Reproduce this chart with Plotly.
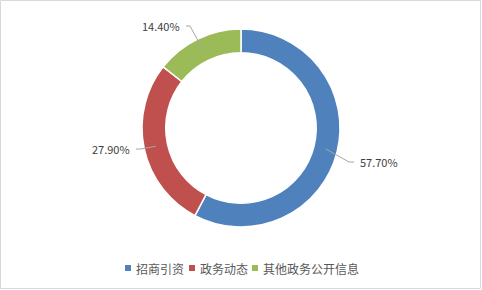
import math
import plotly.graph_objects as go

# Data
categories = ["招商引资", "政务动态", "其他政务公开信息"]
shares = [57.70, 27.90, 14.40]
colors = ["#4F81BD", "#C0504D", "#9BBB59"]

W, H = 482, 290
CX, CY, R = 241, 128, 99          # donut centre / outer radius (px, from top-left)
HOLE = 0.76
FONT = "Noto Sans CJK SC, Noto Sans, sans-serif"


def px(x, y):
    """Pixel position (from top-left) -> paper coordinates."""
    return x / W, 1 - y / H


fig = go.Figure()

x0, y0 = px(CX - R, CY + R)
x1, y1 = px(CX + R, CY - R)
fig.add_trace(go.Pie(
    labels=categories,
    values=shares,
    sort=False,
    direction="clockwise",
    rotation=0,
    hole=HOLE,
    marker=dict(colors=colors, line=dict(color="white", width=1.5)),
    textinfo="none",
    hoverinfo="label+percent",
    showlegend=False,
    domain=dict(x=[x0, x1], y=[y0, y1]),
))

# Data labels with leader lines, anchored at each slice's mid angle
# (elbow point, tail end, text side) per slice
leader = [
    dict(elbow=(349, 162), tail=(354, 162), side="left"),
    dict(elbow=(141, 149), tail=(136, 149), side="right"),
    dict(elbow=(190, 26), tail=(186, 26), side="right"),
]

shapes = []
annotations = []
total = sum(shares)
start = 0.0
mid_r = R * (1 + HOLE) / 2
for v, ld in zip(shares, leader):
    frac = v / total
    mid = (start + frac / 2) * 2 * math.pi     # clockwise from 12 o'clock
    start += frac
    sx = CX + mid_r * math.sin(mid)
    sy = CY - mid_r * math.cos(mid)
    pts = [(sx, sy), ld["elbow"], ld["tail"]]
    path = "M " + " L ".join(f"{px(a, b)[0]:.5f},{px(a, b)[1]:.5f}" for a, b in pts)
    shapes.append(dict(type="path", xref="paper", yref="paper", path=path,
                       line=dict(color="#A6A6A6", width=1)))
    tx, ty = ld["tail"]
    if ld["side"] == "left":
        ax, anchor = px(tx + 4, ty), "left"
    else:
        ax, anchor = px(tx - 4, ty), "right"
    annotations.append(dict(
        x=ax[0], y=ax[1], xref="paper", yref="paper",
        text=f"{v:.2f}%", showarrow=False, xanchor=anchor, yanchor="middle",
        font=dict(family=FONT, size=11, color="#404040"),
    ))

# Legend row: coloured square + category name
legend_x = [125, 189, 252]
legend_y = 268
for name, col, lx in zip(categories, colors, legend_x):
    a = px(lx, legend_y - 3)
    b = px(lx + 6, legend_y + 3)
    shapes.append(dict(type="rect", xref="paper", yref="paper",
                       x0=a[0], y0=b[1], x1=b[0], y1=a[1],
                       fillcolor=col, line=dict(width=0)))
    t = px(lx + 9, legend_y)
    annotations.append(dict(
        x=t[0], y=t[1], xref="paper", yref="paper", text=name,
        showarrow=False, xanchor="left", yanchor="middle",
        font=dict(family=FONT, size=12, color="#595959"),
    ))

# Chart-area border
b0 = px(0.5, 0.5)
b1 = px(480.5, 288.5)
shapes.append(dict(type="rect", xref="paper", yref="paper",
                   x0=b0[0], y0=b1[1], x1=b1[0], y1=b0[1],
                   line=dict(color="#D9D9D9", width=1), fillcolor="rgba(0,0,0,0)"))

fig.update_layout(
    width=W, height=H,
    margin=dict(l=0, r=0, t=0, b=0),
    paper_bgcolor="white",
    plot_bgcolor="white",
    shapes=shapes,
    annotations=annotations,
    showlegend=False,
)

fig.write_html("out.html")
